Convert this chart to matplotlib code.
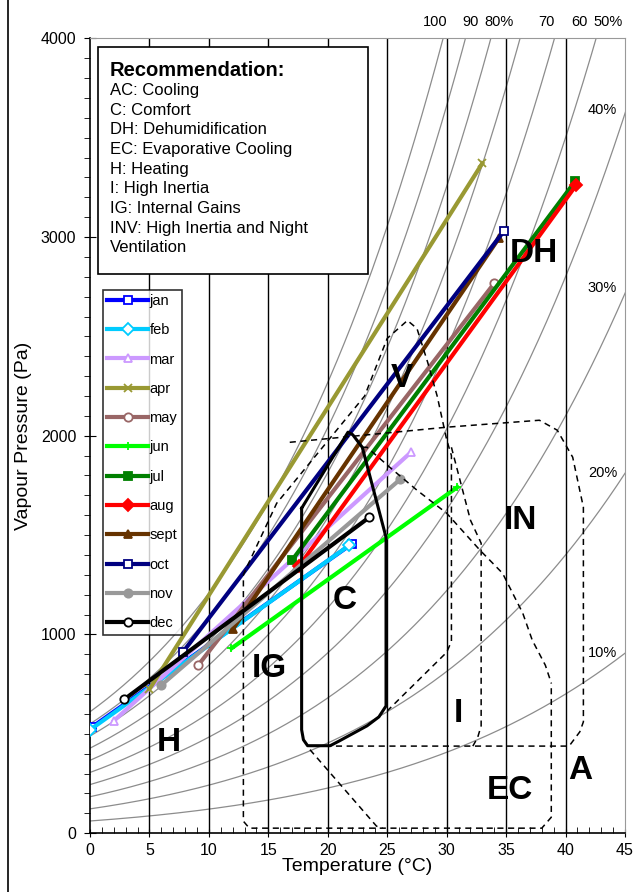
import numpy as np
import matplotlib
matplotlib.use("Agg")
import matplotlib.pyplot as plt
from matplotlib.patches import Rectangle
from matplotlib.ticker import MultipleLocator

plt.rcParams['font.family'] = ['Liberation Sans', 'DejaVu Sans']

# monthly lines: (T low, P low) -> (T high, P high)
months = ['jan', 'feb', 'mar', 'apr', 'may', 'jun', 'jul', 'aug', 'sept', 'oct', 'nov', 'dec']
t_low = [0.2, 0.0, 2.0, 5.0, 9.1, 11.9, 17.0, 17.6, 12.0, 7.8, 6.0, 2.9]
p_low = [535, 520, 565, 725, 845, 930, 1374, 1345, 1025, 910, 745, 674]
t_high = [22.0, 21.8, 27.0, 33.0, 34.0, 30.9, 40.8, 40.9, 34.4, 34.8, 26.1, 23.5]
p_high = [1455, 1448, 1917, 3371, 2767, 1741, 3280, 3262, 2995, 3029, 1781, 1590]
colors = ['#0000FF', '#00CCFF', '#CC99FF', '#999933', '#996666', '#00FF00',
          '#008000', '#FF0000', '#663300', '#000080', '#999999', '#000000']
markers = ['s', 'D', '^', 'x', 'o', '+', 's', 'D', '^', 's', 'o', 'o']
hollow = [True, True, True, False, True, False, False, False, False, True, False, True]

# relative humidity curves
rh_levels = [10, 20, 30, 40, 50, 60, 70, 80, 90, 100]
top_labels = ['100', '90', '80%', '70', '60', '50%']
top_label_t = [29.0, 32.0, 34.4, 38.4, 41.2, 43.6]
right_labels = ['40%', '30%', '20%', '10%']
right_label_p = [3638, 2742, 1811, 906]

# zone outlines (T, P)
comfort_t = [17.8, 17.8, 17.95, 18.3, 20.2, 21.0, 23.3, 24.3, 24.9, 24.9, 22.9, 22.1, 21.7, 17.8]
comfort_p = [1635, 520, 470, 440, 440, 465, 540, 585, 640, 1489, 1942, 2005, 2018, 1635]
vent_t = [12.9, 12.9, 13.2, 15.7, 23.1, 25.0, 26.7, 27.5, 28.4, 29.2, 30.0, 30.4, 30.4, 30.0, 25.0]
vent_p = [1080, 1300, 1340, 1660, 2200, 2490, 2580, 2540, 2370, 2200, 1980, 1900, 965, 910, 615]
ig_t = [12.9, 12.9, 13.4, 38.0, 38.8, 38.8]
ig_p = [1080, 60, 25, 25, 80, 755]
ec_top_t = [22.9, 23.3, 25.2, 27.5, 30.0, 32.8, 34.7, 36.4, 37.2, 38.3, 38.8]
ec_top_p = [1942, 1942, 1842, 1726, 1610, 1424, 1308, 1107, 971, 845, 755]
ec_left_t = [18.5, 24.1, 24.6]
ec_left_p = [420, 35, 25]
in_t = [16.8, 30.0, 37.8, 39.3, 40.6, 41.5, 41.5, 41.2, 40.3, 20.2]
in_p = [1967, 2043, 2078, 2028, 1892, 1640, 560, 510, 438, 438]
inertia_t = [30.4, 32.0, 32.9, 32.9, 32.6, 32.2]
inertia_p = [1942, 1575, 1459, 540, 480, 438]

zone_names = ['H', 'IG', 'C', 'V', 'DH', 'IN', 'I', 'EC', 'A']
zone_t = [6.6, 15.1, 21.4, 26.2, 37.3, 36.2, 31.0, 35.3, 41.2]
zone_p = [458, 830, 1172, 2289, 2918, 1575, 604, 216, 317]

recommendation = ("AC: Cooling\nC: Comfort\nDH: Dehumidification\nEC: Evaporative Cooling\n"
                  "H: Heating\nI: High Inertia\nIG: Internal Gains\n"
                  "INV: High Inertia and Night\nVentilation")


def p_sat(t):
    return 610.78 * np.exp(17.27 * t / (t + 237.3))


fig = plt.figure(figsize=(6.43, 8.92), dpi=100)
ax = fig.add_axes([0.14, 0.066, 0.832, 0.891])

# the chart's humidity curves sit slightly right of the textbook ones
T = np.linspace(0, 46, 400)
for rh in rh_levels:
    ax.plot(T * 1.025, rh / 100 * p_sat(T), color='#8c8c8c', lw=0.9, zorder=1)

for x in range(5, 45, 5):
    ax.axvline(x, color='black', lw=1.0, zorder=1.5)

for i in range(len(months)):
    mfc = 'white' if hollow[i] else colors[i]
    ax.plot([t_low[i], t_high[i]], [p_low[i], p_high[i]], color=colors[i], lw=3,
            marker=markers[i], ms=6, mfc=mfc, mec=colors[i], mew=1.3,
            label=months[i], zorder=3)

dash = dict(color='black', lw=1.1, ls=(0, (4, 3)), zorder=4)
ax.plot(vent_t, vent_p, **dash)
ax.plot(ig_t, ig_p, **dash)
ax.plot(ec_top_t, ec_top_p, **dash)
ax.plot(ec_left_t, ec_left_p, **dash)
ax.plot(in_t, in_p, **dash)
ax.plot(inertia_t, inertia_p, **dash)
ax.plot(comfort_t, comfort_p, color='black', lw=2.2, zorder=5)

for name, t, p in zip(zone_names, zone_t, zone_p):
    ax.text(t, p, name, fontsize=24, fontweight='bold', ha='center', va='center', zorder=6)

for lab, t in zip(top_labels, top_label_t):
    ax.text(t, 4080, lab, fontsize=10.5, ha='center', va='center', clip_on=False)
for lab, p in zip(right_labels, right_label_p):
    ax.text(43.1, p, lab, fontsize=10.5, ha='center', va='center')

ax.set_xlim(0, 45)
ax.set_ylim(0, 4000)
ax.xaxis.set_major_locator(MultipleLocator(5))
ax.xaxis.set_minor_locator(MultipleLocator(1))
ax.yaxis.set_major_locator(MultipleLocator(1000))
ax.yaxis.set_minor_locator(MultipleLocator(100))
ax.tick_params(axis='x', which='major', direction='inout', length=6, labelsize=11.5, pad=4)
ax.tick_params(axis='x', which='minor', direction='in', length=4)
ax.tick_params(axis='y', which='major', direction='inout', length=8, labelsize=11.5, pad=6)
ax.tick_params(axis='y', which='minor', direction='out', length=4)
ax.set_xlabel('Temperature (°C)', fontsize=14, labelpad=0)
ax.set_ylabel('Vapour Pressure (Pa)', fontsize=14, labelpad=6)
for s in ['top', 'right']:
    ax.spines[s].set_color('#999999')
for s in ['left', 'bottom']:
    ax.spines[s].set_linewidth(1.2)

# recommendation box
ax.add_patch(Rectangle((0.015, 0.704), 0.505, 0.285, transform=ax.transAxes,
                       facecolor='white', edgecolor='black', lw=1.2, zorder=7))
ax.text(0.037, 0.960, 'Recommendation:', transform=ax.transAxes, fontsize=14.5,
        fontweight='bold', va='center', zorder=8)
ax.text(0.037, 0.944, recommendation, transform=ax.transAxes, fontsize=12,
        va='top', linespacing=1.39, zorder=8)

leg = ax.legend(loc='upper left', bbox_to_anchor=(0.024, 0.684), borderaxespad=0,
                fontsize=10.5, handlelength=2.8, handletextpad=0.1, labelspacing=1.05,
                frameon=True, fancybox=False, edgecolor='black', borderpad=0.3)
leg.get_frame().set_linewidth(1.2)
leg.set_zorder(9)

fig.add_artist(plt.Line2D([0.012, 0.012], [0, 1], color='black', lw=1.2))

fig.savefig('out.png', dpi=100)
